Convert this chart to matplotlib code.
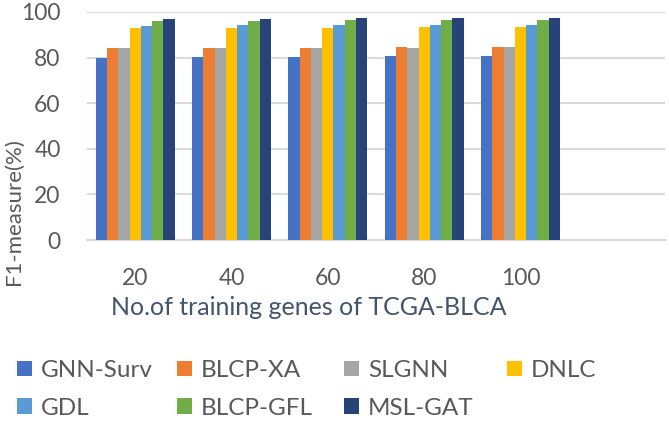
import matplotlib
matplotlib.use('Agg')
import matplotlib.pyplot as plt
import numpy as np

plt.rcParams['font.family'] = ['Lato', 'DejaVu Sans']

categories = ['20', '40', '60', '80', '100']
methods = ['GNN-Surv', 'BLCP-XA', 'SLGNN', 'DNLC', 'GDL', 'BLCP-GFL', 'MSL-GAT']
gnn_surv = [80.0, 80.3, 80.3, 80.6, 80.9]
blcp_xa = [84.3, 84.3, 84.3, 84.5, 84.8]
slgnn = [84.0, 84.3, 84.3, 84.3, 84.5]
dnlc = [92.8, 92.8, 92.8, 93.3, 93.3]
gdl = [94.0, 94.2, 94.5, 94.5, 94.5]
blcp_gfl = [96.0, 96.0, 96.3, 96.3, 96.7]
msl_gat = [97.0, 97.0, 97.3, 97.3, 97.3]
series = [gnn_surv, blcp_xa, slgnn, dnlc, gdl, blcp_gfl, msl_gat]
colors = ['#4472C4', '#ED7D31', '#A5A5A5', '#FFC000', '#5B9BD5', '#70AD47', '#264478']

W, H = 669, 423
fig = plt.figure(figsize=[W / 100, H / 100], dpi=100)
ax = fig.add_axes([87 / W, 1 - 240 / H, 578 / W, 228 / H])

x = np.arange(len(categories))
w = 0.117
bars = []
for i, (vals, c) in enumerate(zip(series, colors)):
    b = ax.bar(x + (i - 3) * w, vals, width=w, color=c, zorder=3, label=methods[i])
    bars.append(b)

# empty 6th slot like the original Excel chart
ax.set_xlim(-0.5, 5.5)
ax.set_ylim(0, 100)
ax.set_yticks(range(0, 101, 20))
ax.set_xticks(x)
ax.set_xticklabels(categories)
ax.grid(axis='y', color='#D9D9D9', linewidth=1.5, zorder=0)
for s in ['top', 'right', 'left']:
    ax.spines[s].set_visible(False)
ax.spines['bottom'].set_color('#D9D9D9')
ax.spines['bottom'].set_linewidth(1.5)
ax.tick_params(axis='both', length=0, labelsize=16.5, labelcolor='#595959')
ax.tick_params(axis='y', pad=19)
ax.tick_params(axis='x', pad=20)

ax.set_ylabel('F1-measure(%)', fontsize=16, color='#595959')
ax.yaxis.set_label_coords(24 / W, 0.5, transform=fig.transFigure)
ax.set_xlabel('No.of training genes of TCGA-BLCA', fontsize=18, color='#44546A')
ax.xaxis.set_label_coords(0.384, -0.245)

# Excel-style legend: 4 equal-width columns, filled row by row
cols = [[0, 4], [1, 5], [2, 6], [3]]
col_x = [17, 177, 344, 507]
for idx, cx in zip(cols, col_x):
    leg = fig.legend([bars[i] for i in idx], [methods[i] for i in idx],
                     loc='upper left', bbox_to_anchor=(cx / W, 1 - 360 / H),
                     frameon=False, fontsize=17.5, handlelength=0.62, handleheight=0.62,
                     handletextpad=0.37, labelspacing=0.68, borderpad=0, borderaxespad=0)
    for t in leg.get_texts():
        t.set_color('#595959')

plt.savefig('out.png', dpi=100)
